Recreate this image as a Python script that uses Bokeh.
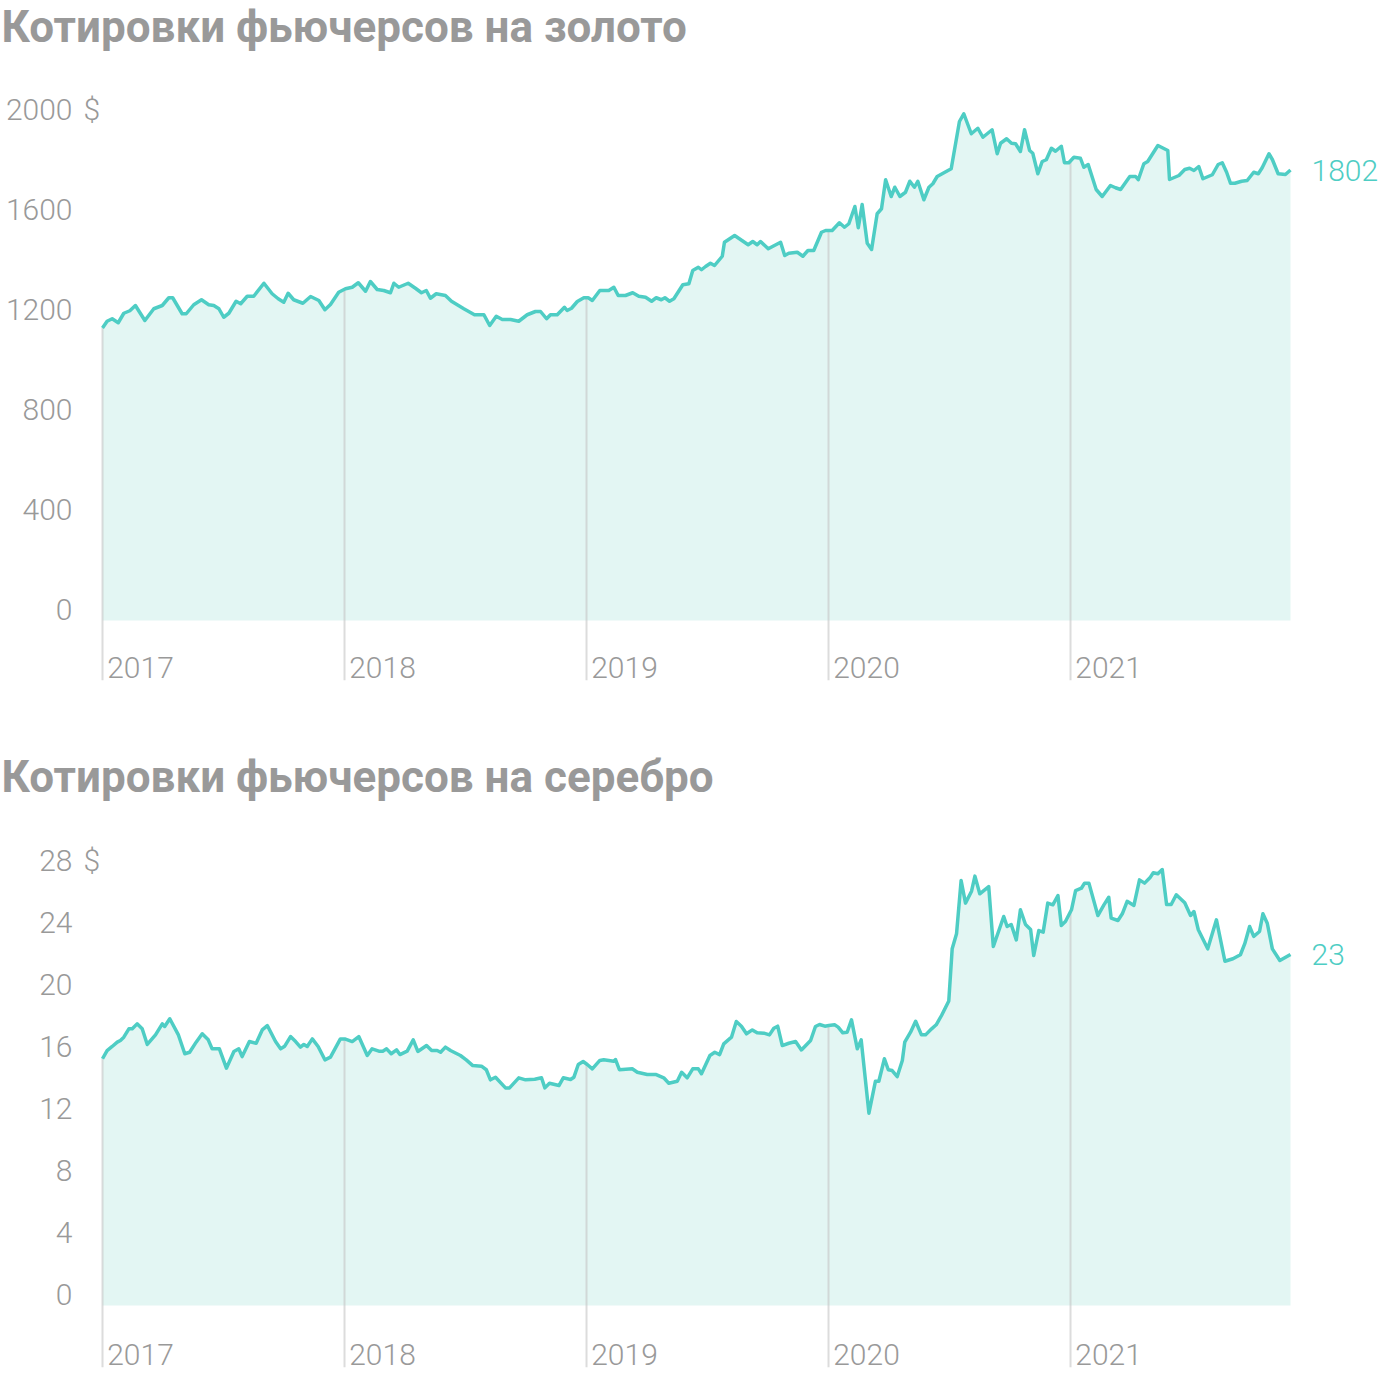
import numpy as np
from bokeh.plotting import figure
from bokeh.models import Range1d, LinearAxis, FixedTicker
from bokeh.layouts import column
from bokeh.embed import file_html
from bokeh.resources import INLINE
from bokeh.core.properties import value

# ---------------- data ----------------
titles = ["Котировки фьючерсов на золото", "Котировки фьючерсов на серебро"]
years = [2017, 2018, 2019, 2020, 2021]
gold_ticks = [0, 400, 800, 1200, 1600, 2000]
silver_ticks = [0, 4, 8, 12, 16, 20, 24, 28]
currency = "$"

gold_t = [2017.000, 2017.019, 2017.040, 2017.065, 2017.088, 2017.113, 2017.136, 2017.175, 2017.212, 2017.247,
          2017.274, 2017.290, 2017.329, 2017.346, 2017.377, 2017.409, 2017.439, 2017.460, 2017.481, 2017.501,
          2017.522, 2017.552, 2017.571, 2017.598, 2017.625, 2017.667, 2017.701, 2017.726, 2017.749, 2017.767,
          2017.790, 2017.828, 2017.860, 2017.894, 2017.919, 2017.942, 2017.976, 2018.004, 2018.032, 2018.057,
          2018.087, 2018.107, 2018.135, 2018.162, 2018.190, 2018.204, 2018.224, 2018.263, 2018.293, 2018.318,
          2018.338, 2018.355, 2018.379, 2018.417, 2018.442, 2018.493, 2018.537, 2018.576, 2018.600, 2018.627,
          2018.652, 2018.686, 2018.720, 2018.755, 2018.789, 2018.810, 2018.835, 2018.851, 2018.879, 2018.909,
          2018.920, 2018.938, 2018.962, 2018.989, 2019.007, 2019.024, 2019.055, 2019.092, 2019.113, 2019.131,
          2019.161, 2019.191, 2019.216, 2019.244, 2019.269, 2019.288, 2019.309, 2019.324, 2019.343, 2019.361,
          2019.398, 2019.423, 2019.439, 2019.462, 2019.475, 2019.492, 2019.512, 2019.529, 2019.561, 2019.570,
          2019.612, 2019.668, 2019.687, 2019.705, 2019.719, 2019.751, 2019.802, 2019.819, 2019.836, 2019.871,
          2019.894, 2019.915, 2019.939, 2019.971, 2019.988, 2020.015, 2020.045, 2020.066, 2020.084, 2020.109,
          2020.123, 2020.139, 2020.160, 2020.178, 2020.201, 2020.219, 2020.236, 2020.259, 2020.274, 2020.295,
          2020.318, 2020.336, 2020.355, 2020.369, 2020.394, 2020.415, 2020.431, 2020.449, 2020.507, 2020.541,
          2020.559, 2020.590, 2020.617, 2020.638, 2020.676, 2020.697, 2020.711, 2020.736, 2020.756, 2020.773,
          2020.793, 2020.810, 2020.831, 2020.844, 2020.865, 2020.883, 2020.900, 2020.921, 2020.938, 2020.962,
          2020.975, 2020.993, 2021.014, 2021.041, 2021.055, 2021.073, 2021.106, 2021.131, 2021.165, 2021.186,
          2021.207, 2021.245, 2021.269, 2021.280, 2021.303, 2021.319, 2021.361, 2021.402, 2021.409, 2021.448,
          2021.472, 2021.492, 2021.510, 2021.530, 2021.547, 2021.586, 2021.610, 2021.627, 2021.645, 2021.661,
          2021.679, 2021.707, 2021.730, 2021.757, 2021.776, 2021.792, 2021.820, 2021.834, 2021.858, 2021.888,
          2021.909]
gold_v = [1170, 1197, 1207, 1191, 1229, 1239, 1260, 1200, 1247, 1260,
          1291, 1291, 1227, 1227, 1263, 1283, 1263, 1260, 1247, 1213,
          1229, 1277, 1267, 1297, 1297, 1349, 1307, 1287, 1273, 1309,
          1283, 1269, 1296, 1280, 1243, 1264, 1313, 1327, 1333, 1351,
          1317, 1356, 1324, 1320, 1311, 1349, 1333, 1349, 1329, 1311,
          1320, 1289, 1307, 1300, 1277, 1247, 1223, 1223, 1180, 1217,
          1204, 1204, 1197, 1223, 1236, 1236, 1207, 1223, 1223, 1253,
          1240, 1249, 1276, 1291, 1291, 1280, 1320, 1320, 1333, 1300,
          1300, 1311, 1297, 1293, 1277, 1291, 1283, 1291, 1277, 1287,
          1343, 1347, 1400, 1413, 1403, 1416, 1429, 1420, 1457, 1513,
          1540, 1503, 1516, 1503, 1516, 1487, 1513, 1460, 1469, 1473,
          1457, 1480, 1480, 1553, 1560, 1560, 1591, 1573, 1587, 1656,
          1571, 1664, 1509, 1484, 1627, 1647, 1763, 1696, 1733, 1696,
          1713, 1757, 1733, 1757, 1683, 1733, 1747, 1776, 1807, 1996,
          2027, 1947, 1969, 1933, 1963, 1867, 1909, 1927, 1909, 1907,
          1876, 1963, 1880, 1869, 1787, 1836, 1843, 1889, 1877, 1897,
          1831, 1831, 1853, 1849, 1813, 1824, 1724, 1696, 1740, 1731,
          1724, 1776, 1776, 1763, 1827, 1836, 1900, 1880, 1764, 1780,
          1804, 1809, 1800, 1816, 1767, 1783, 1824, 1831, 1793, 1749,
          1749, 1757, 1760, 1793, 1787, 1811, 1867, 1844, 1787, 1784,
          1802]

silver_t = [2017.000, 2017.019, 2017.040, 2017.061, 2017.074, 2017.088, 2017.109, 2017.123, 2017.143, 2017.164,
            2017.185, 2017.219, 2017.247, 2017.257, 2017.278, 2017.313, 2017.340, 2017.360, 2017.387, 2017.412,
            2017.437, 2017.453, 2017.483, 2017.512, 2017.543, 2017.563, 2017.577, 2017.607, 2017.635, 2017.660,
            2017.681, 2017.715, 2017.736, 2017.753, 2017.777, 2017.798, 2017.818, 2017.832, 2017.846, 2017.867,
            2017.891, 2017.919, 2017.942, 2017.983, 2018.001, 2018.032, 2018.059, 2018.094, 2018.114, 2018.142,
            2018.158, 2018.174, 2018.193, 2018.215, 2018.229, 2018.259, 2018.284, 2018.303, 2018.339, 2018.360,
            2018.383, 2018.397, 2018.417, 2018.438, 2018.479, 2018.503, 2018.530, 2018.566, 2018.586, 2018.603,
            2018.624, 2018.665, 2018.682, 2018.720, 2018.748, 2018.786, 2018.814, 2018.828, 2018.847, 2018.886,
            2018.904, 2018.934, 2018.948, 2018.966, 2018.986, 2019.003, 2019.024, 2019.055, 2019.071, 2019.113,
            2019.120, 2019.136, 2019.189, 2019.210, 2019.251, 2019.288, 2019.319, 2019.340, 2019.375, 2019.393,
            2019.416, 2019.439, 2019.462, 2019.475, 2019.510, 2019.530, 2019.550, 2019.567, 2019.599, 2019.619,
            2019.640, 2019.661, 2019.685, 2019.705, 2019.733, 2019.756, 2019.774, 2019.790, 2019.809, 2019.836,
            2019.864, 2019.888, 2019.926, 2019.946, 2019.963, 2019.985, 2020.001, 2020.025, 2020.040, 2020.059,
            2020.077, 2020.095, 2020.119, 2020.135, 2020.167, 2020.194, 2020.208, 2020.231, 2020.247, 2020.263,
            2020.284, 2020.305, 2020.315, 2020.339, 2020.360, 2020.384, 2020.401, 2020.426, 2020.445, 2020.467,
            2020.497, 2020.511, 2020.529, 2020.548, 2020.566, 2020.591, 2020.605, 2020.625, 2020.662, 2020.681,
            2020.724, 2020.738, 2020.755, 2020.776, 2020.793, 2020.814, 2020.835, 2020.848, 2020.869, 2020.887,
            2020.906, 2020.927, 2020.948, 2020.962, 2020.979, 2021.004, 2021.021, 2021.045, 2021.058, 2021.076,
            2021.113, 2021.138, 2021.158, 2021.168, 2021.196, 2021.214, 2021.234, 2021.262, 2021.285, 2021.306,
            2021.328, 2021.342, 2021.361, 2021.379, 2021.397, 2021.416, 2021.437, 2021.472, 2021.496, 2021.510,
            2021.528, 2021.567, 2021.603, 2021.638, 2021.671, 2021.702, 2021.720, 2021.740, 2021.757, 2021.781,
            2021.795, 2021.813, 2021.834, 2021.865, 2021.909]
silver_v = [15.92, 16.45, 16.71, 16.99, 17.10, 17.31, 17.85, 17.85, 18.17, 17.85,
            16.84, 17.46, 18.17, 18.00, 18.50, 17.48, 16.24, 16.34, 16.99, 17.53,
            17.14, 16.56, 16.56, 15.31, 16.39, 16.56, 16.06, 17.03, 16.92, 17.78,
            18.06, 17.03, 16.56, 16.73, 17.35, 17.03, 16.67, 16.84, 16.71, 17.20,
            16.71, 15.85, 16.02, 17.20, 17.20, 17.03, 17.35, 16.13, 16.56, 16.41,
            16.41, 16.56, 16.24, 16.49, 16.19, 16.41, 17.14, 16.39, 16.77, 16.45,
            16.45, 16.34, 16.67, 16.45, 16.13, 15.85, 15.48, 15.44, 15.21, 14.56,
            14.73, 14.04, 14.04, 14.69, 14.56, 14.60, 14.69, 14.04, 14.34, 14.19,
            14.69, 14.58, 14.73, 15.55, 15.74, 15.55, 15.27, 15.81, 15.85, 15.76,
            15.87, 15.21, 15.27, 15.05, 14.90, 14.90, 14.69, 14.34, 14.47, 15.05,
            14.69, 15.27, 15.27, 14.95, 16.13, 16.34, 16.19, 16.88, 17.31, 18.32,
            18.02, 17.53, 17.78, 17.59, 17.57, 17.46, 17.89, 18.02, 16.77, 16.92,
            17.03, 16.49, 17.10, 18.00, 18.13, 18.02, 18.06, 18.11, 17.96, 17.59,
            17.63, 18.43, 16.56, 17.14, 12.41, 14.47, 14.47, 15.92, 15.21, 15.16,
            14.77, 15.81, 16.99, 17.63, 18.34, 17.46, 17.46, 17.85, 18.11, 18.71,
            19.65, 23.01, 23.98, 27.42, 25.96, 26.73, 27.70, 26.56, 27.03, 23.16,
            25.10, 24.45, 24.58, 23.59, 25.53, 24.58, 24.26, 22.58, 24.19, 24.09,
            25.96, 25.85, 26.45, 24.52, 24.77, 25.53, 26.77, 26.92, 27.25, 27.25,
            25.16, 25.85, 26.34, 24.99, 24.84, 25.27, 26.08, 25.81, 27.46, 27.25,
            27.59, 27.92, 27.85, 28.13, 25.87, 25.87, 26.50, 25.98, 25.16, 25.42,
            24.24, 23.01, 24.88, 22.21, 22.37, 22.63, 23.34, 24.45, 23.81, 24.13,
            25.27, 24.66, 23.01, 22.26, 22.65]

# ---------------- style / geometry ----------------
TEAL = "#4ecdc4"
FILL = "#e3f6f3"
GRID = "#c4c4c4"
GRAY = "#999999"
FONT = "Roboto"
LABEL_FONT = "Roboto Light"
LABEL_SIZE = "30px"
TITLE_SIZE = "44px"
W = 1400
FRAME_LEFT = 75        # frame starts here (px)
DATA_LEFT = 102        # first data point (px)
DATA_RIGHT = 1290      # last data point (px)


def make_title(text, height):
    f = figure(width=W, height=height, output_backend="svg", toolbar_location=None,
               title=text, x_range=Range1d(0, 1), y_range=Range1d(0, 1),
               x_axis_location=None, y_axis_location=None,
               min_border_left=FRAME_LEFT, min_border_right=0,
               min_border_top=0, min_border_bottom=0,
               outline_line_color=None, background_fill_color="white",
               border_fill_color="white")
    f.grid.visible = False
    f.title.text_font = FONT
    f.title.text_font_style = "bold"
    f.title.text_font_size = TITLE_SIZE
    f.title.text_color = GRAY
    f.title.align = "left"
    f.title.vertical_align = "top"
    f.title.offset = -FRAME_LEFT + 1
    f.title.standoff = 0
    return f


def make_panel(t, v, ticks, height, frame_bottom, zero_px, units_per_px):
    # frame spans from the top of the panel down to frame_bottom
    y_hi = zero_px * units_per_px
    y_lo = (zero_px - frame_bottom) * units_per_px
    x0, x1 = t[0], t[-1]
    ypp = (x1 - x0) / (DATA_RIGHT - DATA_LEFT)
    xr0 = x0 - (DATA_LEFT - FRAME_LEFT) * ypp
    xr1 = x1 + (W - DATA_RIGHT) * ypp
    lab_dy = 11 * units_per_px
    lab_dx = 38 * ypp

    p = figure(width=W, height=height, output_backend="svg", toolbar_location=None,
               title=None,
               x_range=Range1d(xr0, xr1), y_range=Range1d(y_lo, y_hi),
               x_axis_location=None, y_axis_location=None,
               min_border_left=FRAME_LEFT, min_border_right=0,
               min_border_top=0, min_border_bottom=height - frame_bottom,
               outline_line_color=None, background_fill_color="white",
               border_fill_color="white")
    p.grid.visible = False
    p.extra_y_ranges = {"ylab": Range1d(y_lo - lab_dy, y_hi - lab_dy)}
    p.extra_x_ranges = {"xlab": Range1d(xr0 - lab_dx, xr1 - lab_dx)}

    p.varea(x=t, y1=0, y2=v, fill_color=FILL)
    tops = np.interp(years, t, v)
    p.segment(x0=years, y0=[y_lo] * len(years), x1=years, y1=tops,
              line_color=GRID, line_alpha=0.6, line_width=2)
    p.line(x=t, y=v, line_color=TEAL, line_width=3.5, line_join="round")

    yax = LinearAxis(y_range_name="ylab", ticker=FixedTicker(ticks=ticks),
                     axis_line_color=None, major_tick_line_color=None,
                     minor_tick_line_color=None, major_tick_in=0, major_tick_out=0,
                     major_label_standoff=3, major_label_text_font=LABEL_FONT,
                     major_label_text_font_size=LABEL_SIZE, major_label_text_color=GRAY)
    p.add_layout(yax, "left")

    xax = LinearAxis(x_range_name="xlab", ticker=FixedTicker(ticks=years),
                     axis_line_color=None, major_tick_line_color=None,
                     minor_tick_line_color=None, major_tick_in=0, major_tick_out=0,
                     major_label_standoff=-24, major_label_text_font=LABEL_FONT,
                     major_label_text_font_size=LABEL_SIZE, major_label_text_color=GRAY)
    p.add_layout(xax, "below")

    # currency sign after the top tick label
    p.text(x=[xr0], y=[ticks[-1]], y_range_name="ylab", text=[currency], x_offset=8,
           text_align="left", text_baseline="middle", text_font=value(LABEL_FONT),
           text_font_size=LABEL_SIZE, text_color=GRAY)
    # last value label
    p.text(x=[x1], y=[v[-1]], text=[f"{v[-1]:.0f}"], x_offset=21,
           text_align="left", text_baseline="middle", text_font=value(LABEL_FONT),
           text_font_size=LABEL_SIZE, text_color=TEAL)
    return p


t1 = make_title(titles[0], height=60)
p1 = make_panel(gold_t, gold_v, gold_ticks, height=690,
                frame_bottom=620, zero_px=560, units_per_px=4.0)
t2 = make_title(titles[1], height=60)
p2 = make_panel(silver_t, silver_v, silver_ticks, height=566,
                frame_bottom=557, zero_px=495, units_per_px=4.0 / 62.0)

layout = column(t1, p1, t2, p2, spacing=0)
open("out.html", "w").write(file_html(layout, INLINE))
